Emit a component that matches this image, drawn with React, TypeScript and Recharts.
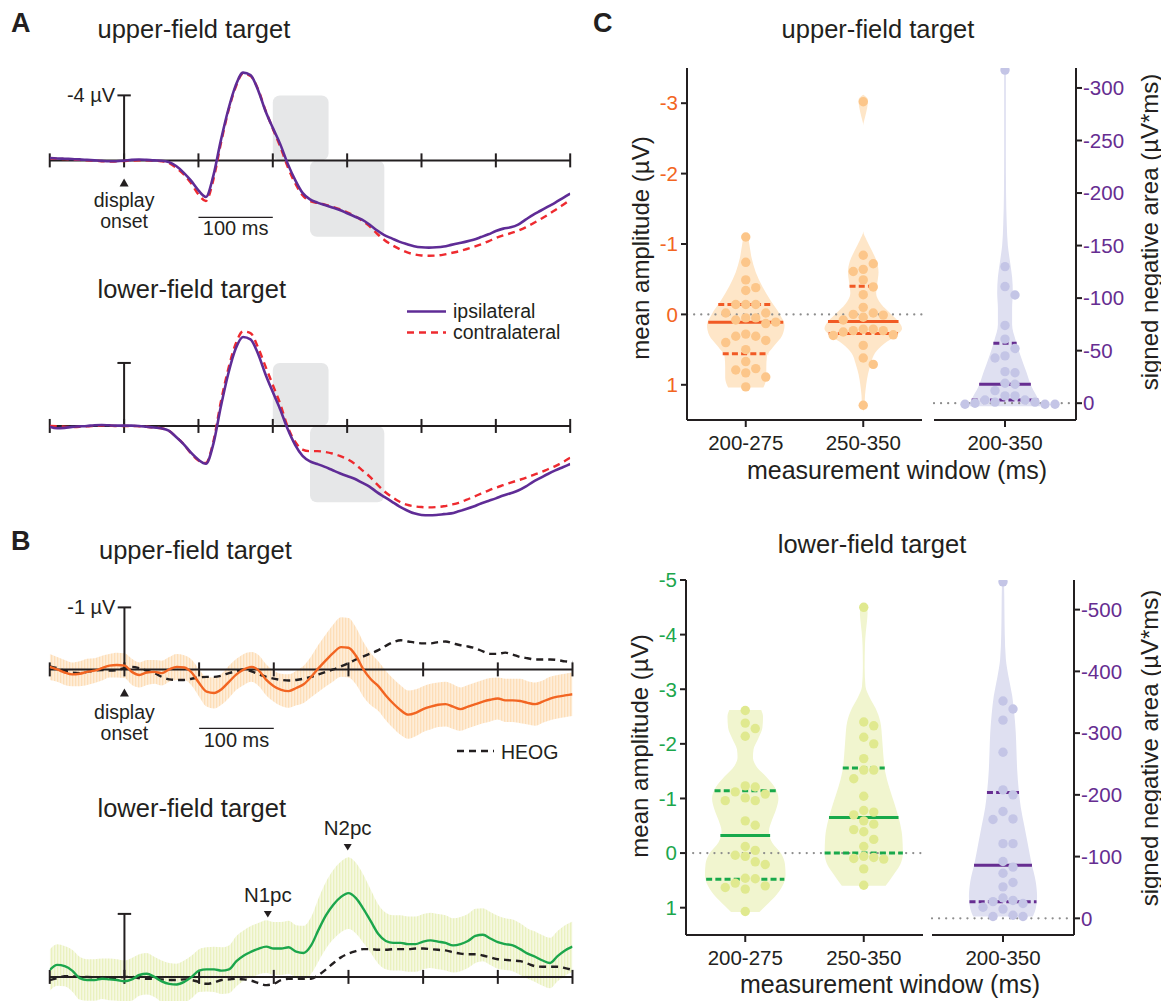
import React from "react";
import {
  ComposedChart,
  Line,
  Area,
  Scatter,
  XAxis,
  YAxis,
  ReferenceLine,
  ReferenceArea,
  ReferenceDot,
} from "recharts";

const FONT = '"Liberation Sans", Arial, Helvetica, sans-serif';
const INK = "#231f20";

// ---------- ERP waveforms, sampled every 10 ms from -100 to 600 ms ----------
const TIME_MS = Array.from({ length: 71 }, (_, i) => -100 + i * 10);
const TIME_TICKS = [-100, 0, 100, 200, 300, 400, 500, 600];

// panel A, upper-field target (µV, negative up)
const aUpperIpsi = [
  -0.15, -0.12, -0.1, -0.08, -0.06, -0.03, 0.0, 0.03, 0.05, 0.05,
  0.02, -0.03, -0.05, -0.03, 0.0, 0.02, 0.1, 0.35, 0.75, 1.25,
  1.85, 2.25, 0.95, -1.2, -3.1, -4.6, -5.4, -5.25, -4.35, -3.05,
  -2.0, -1.0, 0.2, 1.2, 2.0, 2.4, 2.6, 2.75, 2.9, 3.05,
  3.25, 3.45, 3.65, 3.95, 4.3, 4.6, 4.8, 5.0, 5.15, 5.28,
  5.35, 5.37, 5.35, 5.3, 5.2, 5.1, 5.0, 4.88, 4.72, 4.55,
  4.35, 4.2, 4.12, 3.95, 3.65, 3.35, 3.1, 2.85, 2.6, 2.32,
  2.05,
];
const aUpperContra = [
  -0.12, -0.1, -0.08, -0.05, -0.03, 0.0, 0.02, 0.05, 0.08, 0.06,
  0.04, 0.02, 0.0, 0.0, 0.02, 0.05, 0.15, 0.45, 0.85, 1.4,
  2.1, 2.5, 1.2, -1.0, -3.0, -4.5, -5.35, -5.2, -4.4, -3.1,
  -1.95, -0.85, 0.4, 1.4, 2.15, 2.5, 2.62, 2.72, 2.85, 3.0,
  3.2, 3.42, 3.7, 4.05, 4.5, 4.9, 5.2, 5.45, 5.65, 5.78,
  5.85, 5.87, 5.86, 5.8, 5.7, 5.6, 5.47, 5.33, 5.17, 4.98,
  4.78, 4.62, 4.48, 4.32, 4.12, 3.88, 3.62, 3.35, 3.05, 2.75,
  2.42,
];

// panel A, lower-field target
const aLowerIpsi = [
  0.05, 0.15, 0.12, 0.06, 0.03, 0.0, -0.04, -0.06, -0.04, -0.02,
  -0.02, -0.02, 0.0, 0.05, 0.1, 0.15, 0.3, 0.7, 1.15, 1.7,
  2.15, 2.4, 1.15, -1.2, -3.3, -4.9, -5.65, -5.5, -4.6, -3.3,
  -2.15, -1.05, 0.2, 1.2, 1.9, 2.25, 2.42, 2.6, 2.8, 3.0,
  3.18, 3.35, 3.6, 3.85, 4.2, 4.5, 4.8, 5.1, 5.35, 5.55,
  5.65, 5.67, 5.65, 5.6, 5.55, 5.42, 5.28, 5.12, 4.92, 4.76,
  4.6, 4.42, 4.27, 4.1, 3.85, 3.55, 3.3, 3.05, 2.82, 2.62,
  2.42,
];
const aLowerContra = [
  0.0, 0.02, 0.05, 0.08, 0.05, 0.03, 0.0, -0.03, -0.02, 0.0,
  0.0, 0.0, 0.02, 0.05, 0.1, 0.15, 0.3, 0.7, 1.15, 1.75,
  2.2, 2.35, 1.0, -1.5, -3.6, -5.2, -6.0, -5.9, -5.0, -3.8,
  -2.6, -1.4, 0.05, 1.0, 1.5, 1.6, 1.6, 1.65, 1.75, 1.9,
  2.1, 2.4, 2.8, 3.2, 3.7, 4.15, 4.5, 4.8, 5.0, 5.1,
  5.15, 5.17, 5.15, 5.1, 5.0, 4.88, 4.7, 4.5, 4.3, 4.1,
  3.92, 3.76, 3.6, 3.45, 3.3, 3.12, 2.95, 2.75, 2.55, 2.3,
  2.02,
];

// panel B, contra-minus-ipsi difference waves, their error and HEOG
const bUpperDiff = [
  -0.04, 0.0, 0.05, 0.08, 0.07, 0.04, 0.02, -0.02, -0.06, -0.07,
  -0.06, 0.04, 0.09, 0.05, 0.04, 0.06, 0.0, -0.04, -0.03, 0.05,
  0.22, 0.36, 0.38, 0.32, 0.2, 0.08, 0.0, -0.04, 0.02, 0.17,
  0.27, 0.33, 0.35, 0.3, 0.24, 0.12, -0.02, -0.15, -0.27, -0.36,
  -0.35, -0.22, 0.0, 0.16, 0.27, 0.42, 0.55, 0.66, 0.73, 0.7,
  0.64, 0.6, 0.57, 0.56, 0.6, 0.64, 0.6, 0.56, 0.52, 0.49,
  0.47, 0.5, 0.5, 0.51, 0.54, 0.56, 0.52, 0.47, 0.44, 0.42,
  0.4,
];
const bUpperErr = [
  0.21, 0.2, 0.2, 0.19, 0.2, 0.21, 0.2, 0.2, 0.19, 0.2,
  0.2, 0.21, 0.2, 0.2, 0.19, 0.2, 0.2, 0.21, 0.2, 0.21,
  0.22, 0.24, 0.25, 0.25, 0.26, 0.25, 0.25, 0.24, 0.25, 0.25,
  0.25, 0.26, 0.27, 0.28, 0.3, 0.33, 0.38, 0.42, 0.46, 0.48,
  0.48, 0.46, 0.44, 0.42, 0.4, 0.4, 0.4, 0.4, 0.39, 0.38,
  0.37, 0.37, 0.36, 0.36, 0.36, 0.35, 0.35, 0.35, 0.35, 0.35,
  0.34, 0.35, 0.35, 0.36, 0.35, 0.35, 0.34, 0.35, 0.35, 0.35,
  0.35,
];
const bUpperHeog = [
  -0.05, -0.02, 0.02, 0.05, 0.06, 0.04, 0.02, 0.01, 0.02, 0.01,
  -0.02, -0.04, -0.02, 0.02, 0.06, 0.12, 0.16, 0.17, 0.17, 0.15,
  0.13, 0.12, 0.12, 0.1, 0.06, 0.03, 0.0, 0.03, 0.08, 0.12,
  0.15, 0.17, 0.18, 0.17, 0.15, 0.12, 0.08, 0.04, 0.0, -0.05,
  -0.1, -0.16, -0.21, -0.26, -0.31, -0.38, -0.44, -0.47, -0.45, -0.43,
  -0.42, -0.42, -0.44, -0.45, -0.42, -0.39, -0.37, -0.34, -0.29, -0.25,
  -0.25, -0.27, -0.24, -0.2, -0.18, -0.16, -0.16, -0.16, -0.15, -0.13,
  -0.12,
];
const bLowerDiff = [
  -0.11, -0.19, -0.17, -0.1, 0.02, 0.05, 0.05, 0.03, 0.04, 0.05,
  0.07, 0.04, -0.03, -0.05, 0.0, 0.07, 0.11, 0.12, 0.08, 0.0,
  -0.1, -0.12, -0.12, -0.1, -0.12, -0.25, -0.34, -0.4, -0.45, -0.48,
  -0.45, -0.45, -0.47, -0.4, -0.38, -0.5, -0.75, -0.98, -1.15, -1.27,
  -1.33, -1.25, -1.08, -0.88, -0.68, -0.57, -0.54, -0.54, -0.52, -0.52,
  -0.56, -0.58, -0.56, -0.54, -0.5, -0.52, -0.57, -0.65, -0.67, -0.61,
  -0.55, -0.52, -0.5, -0.44, -0.37, -0.32, -0.26, -0.22, -0.33, -0.42,
  -0.48,
];
const bLowerErr = [
  0.33, 0.33, 0.32, 0.33, 0.34, 0.33, 0.33, 0.32, 0.33, 0.33,
  0.33, 0.34, 0.33, 0.33, 0.32, 0.33, 0.33, 0.33, 0.34, 0.34,
  0.34, 0.35, 0.36, 0.37, 0.38, 0.4, 0.4, 0.41, 0.41, 0.42,
  0.42, 0.42, 0.42, 0.42, 0.43, 0.45, 0.5, 0.53, 0.55, 0.56,
  0.57, 0.56, 0.54, 0.5, 0.47, 0.45, 0.44, 0.44, 0.44, 0.44,
  0.44, 0.44, 0.44, 0.44, 0.43, 0.43, 0.43, 0.43, 0.42, 0.42,
  0.42, 0.41, 0.41, 0.41, 0.4, 0.4, 0.4, 0.4, 0.4, 0.4,
  0.4,
];
const bLowerHeog = [
  0.05, 0.02, -0.01, -0.01, 0.0, 0.0, 0.01, 0.02, 0.03, 0.02,
  0.0, 0.0, 0.02, 0.03, 0.03, 0.04, 0.05, 0.05, 0.04, 0.05,
  0.08, 0.11, 0.09, 0.05, 0.04, 0.03, 0.04, 0.06, 0.1, 0.13,
  0.11, 0.05, 0.03, 0.03, 0.03, 0.03, -0.03, -0.12, -0.22, -0.31,
  -0.37, -0.41, -0.44, -0.44, -0.43, -0.43, -0.44, -0.44, -0.44, -0.45,
  -0.45, -0.44, -0.43, -0.42, -0.39, -0.37, -0.36, -0.36, -0.34, -0.31,
  -0.28, -0.27, -0.26, -0.25, -0.21, -0.17, -0.16, -0.16, -0.16, -0.14,
  -0.11,
];

// measurement windows (ms)
const WIN_EARLY = [200, 275];
const WIN_LATE = [250, 350];

// ---------- panel C: single-subject measures ----------
const WINDOW_NAMES = ["200-275", "250-350"];
const AREA_NAME = ["200-350"];

// upper-field, mean amplitude 200-275 ms
const uEarlyLevels = [-1.15, -1.08, -1.0, -0.8, -0.6, -0.4, -0.2, 0.0, 0.15, 0.3, 0.45, 0.6, 0.75, 0.9, 1.04];
const uEarlyWidths = [0.0, 0.04, 0.06, 0.1, 0.17, 0.28, 0.42, 0.58, 0.66, 0.62, 0.48, 0.36, 0.35, 0.35, 0.3];
const uEarlyDots = [-1.1, -0.74, -0.49, -0.38, -0.34, -0.14, -0.14, -0.14, -0.02, -0.02, 0.05, 0.05, 0.08, 0.11, 0.13, 0.28, 0.31, 0.37, 0.31, 0.4, 0.5, 0.67, 0.77, 0.79, 0.83, 0.89, 1.03];
const uEarlyStats = { q1: -0.14, median: 0.11, q3: 0.56 };

// upper-field, mean amplitude 250-350 ms
const uLateLevels = [-3.12, -3.05, -2.95, -2.8, -2.68, -1.18, -1.05, -0.9, -0.75, -0.6, -0.45, -0.3, -0.15, 0.0, 0.1, 0.2, 0.3, 0.42, 0.55, 0.7, 0.85, 1.0, 1.15, 1.3, 1.38];
const uLateWidths = [0.0, 0.08, 0.07, 0.03, 0.0, 0.0, 0.06, 0.15, 0.23, 0.26, 0.24, 0.22, 0.3, 0.48, 0.6, 0.66, 0.56, 0.35, 0.2, 0.13, 0.08, 0.05, 0.03, 0.02, 0.0];
const uLateDots = [-3.02, -0.84, -0.72, -0.64, -0.61, -0.49, -0.39, -0.28, -0.1, -0.02, 0.0, 0.04, 0.01, 0.08, 0.21, 0.21, 0.23, 0.25, 0.23, 0.3, 0.29, 0.44, 0.62, 0.71, 1.29];
const uLateStats = { q1: -0.4, median: 0.1, q3: 0.27 };

// upper-field, signed negative area 200-350 ms (µV*ms)
const uAreaLevels = [-320, -317, -280, -240, -200, -170, -150, -135, -120, -105, -90, -75, -60, -45, -30, -15, -5, 3];
const uAreaWidths = [0.0, 0.012, 0.012, 0.012, 0.015, 0.025, 0.04, 0.07, 0.1, 0.11, 0.1, 0.1, 0.15, 0.22, 0.3, 0.38, 0.46, 0.5];
const uAreaDots = [-317, -130, -111, -103, -74, -61, -52, -45, -43, -30, -29, -19, -18, -12, -7, -7, -1, -1, -3, -3, 0, 1, 1, 1];
const uAreaStats = { q1: -57, median: -18, q3: -3 };

// lower-field, mean amplitude 200-275 ms
const lEarlyLevels = [-2.62, -2.5, -2.3, -2.1, -1.9, -1.75, -1.6, -1.4, -1.2, -1.0, -0.8, -0.6, -0.4, -0.2, 0.0, 0.2, 0.4, 0.6, 0.8, 0.95, 1.08];
const lEarlyWidths = [0.27, 0.3, 0.29, 0.22, 0.14, 0.13, 0.18, 0.35, 0.5, 0.56, 0.52, 0.45, 0.4, 0.45, 0.6, 0.67, 0.68, 0.63, 0.5, 0.36, 0.24];
const lEarlyDots = [-2.61, -2.38, -2.28, -2.14, -1.21, -1.23, -1.12, -1.01, -0.96, -0.96, -1.08, -0.59, -0.51, -0.12, -0.05, 0.04, 0.06, 0.16, 0.21, 0.46, 0.47, 0.55, 0.6, 0.63, 0.66, 1.07];
const lEarlyStats = { q1: -1.14, median: -0.32, q3: 0.48 };

// lower-field, mean amplitude 250-350 ms
const lLateLevels = [-4.56, -4.5, -4.4, -4.25, -4.05, -3.8, -3.4, -3.05, -2.85, -2.65, -2.4, -2.1, -1.8, -1.5, -1.2, -0.9, -0.6, -0.3, 0.0, 0.2, 0.4, 0.6];
const lLateWidths = [0.0, 0.05, 0.065, 0.055, 0.035, 0.02, 0.015, 0.03, 0.1, 0.2, 0.28, 0.31, 0.33, 0.36, 0.43, 0.52, 0.6, 0.65, 0.66, 0.62, 0.5, 0.37];
const lLateDots = [-4.5, -2.4, -2.33, -2.12, -2.0, -1.73, -1.52, -1.52, -1.36, -1.04, -0.78, -0.75, -0.7, -0.53, -0.59, -0.39, -0.43, -0.25, -0.12, 0.08, 0.1, 0.11, 0.06, 0.29, 0.59];
const lLateStats = { q1: -1.56, median: -0.65, q3: 0.0 };

// lower-field, signed negative area 200-350 ms
const lAreaLevels = [-550, -540, -500, -460, -420, -390, -360, -330, -300, -270, -240, -210, -180, -150, -120, -90, -60, -35, -15, -3];
const lAreaWidths = [0.0, 0.015, 0.02, 0.025, 0.04, 0.08, 0.13, 0.16, 0.18, 0.19, 0.2, 0.22, 0.25, 0.3, 0.35, 0.4, 0.46, 0.48, 0.46, 0.42];
const lAreaDots = [-545, -352, -339, -321, -269, -208, -200, -173, -161, -160, -121, -121, -92, -83, -73, -58, -51, -33, -29, -18, -24, -15, -5, -3, -27, -3];
const lAreaStats = { q1: -204, median: -86, q3: -27 };

// ---------- palette ----------
const PURPLE = "#5f2c96";
const RED = "#ee2a2f";
const ORANGE = "#f26522";
const GREEN = "#1ca64c";
const VIOLET = "#662d91";
const ORANGE_SET = { fill: "#fee6c8", dot: "#fcc68a", line: "#f15a24" };
const GREEN_SET = { fill: "#f1f5cf", dot: "#e0e98f", line: "#18a94b" };
const VIOLET_SET = { fill: "#dfe0f1", dot: "#c4c5e6", line: "#662d91" };

// ---------- ERP panels ----------
type Frame = { zero: number; ppu: number; yMin: number; yMax: number; left: number; right: number };

const CHART_W = 620;
const PAD = 50;
const NOTE = 19.5;

function ErpChart({ frame, rows, children }: { frame: Frame; rows: any[]; children: React.ReactNode }) {
  const plotTop = frame.zero + frame.yMin * frame.ppu;
  const height = (frame.yMax - frame.yMin) * frame.ppu + PAD * 2;
  return (
    <div style={{ position: "absolute", left: 0, top: plotTop - PAD }}>
      <ComposedChart
        width={CHART_W}
        height={height}
        data={rows}
        margin={{ top: PAD, bottom: PAD, left: frame.left, right: CHART_W - frame.right }}
      >
        <XAxis type="number" dataKey="t" domain={[-100, 600]} hide allowDataOverflow />
        <YAxis type="number" domain={[frame.yMin, frame.yMax]} reversed hide allowDataOverflow />
        {children}
      </ComposedChart>
    </div>
  );
}

const roundedBox = (p: any) => (
  <rect x={p.x} y={p.y} width={p.width} height={p.height} rx={7} ry={7} fill="#e6e7e8" />
);

function timeAxis(f: Frame, barTop: number) {
  const tick = 7 / f.ppu;
  const stroke = { stroke: INK, strokeWidth: 2, ifOverflow: "visible" as const };
  return [
    <ReferenceLine key="axis" y={0} {...stroke} />,
    ...TIME_TICKS.map((t) => (
      <ReferenceLine key={`tick${t}`} segment={[{ x: t, y: -tick }, { x: t, y: tick }]} {...stroke} />
    )),
    <ReferenceLine key="bar" segment={[{ x: 0, y: 0 }, { x: 0, y: barTop }]} {...stroke} />,
    <ReferenceLine key="cap" segment={[{ x: -9, y: barTop }, { x: 9, y: barTop }]} {...stroke} />,
  ];
}

function voltLabel(value: number, text: string) {
  return (
    <ReferenceDot
      key="voltLabel"
      x={0}
      y={value}
      r={0}
      ifOverflow="visible"
      shape={(p: any) => (
        <text x={p.cx - 9} y={p.cy} dy="0.33em" textAnchor="end" fontSize={20} fill={INK}>
          {text}
        </text>
      )}
    />
  );
}

function onsetNote(arrow: number, line1: number, line2: number) {
  return (
    <ReferenceDot
      key="onset"
      x={0}
      y={0}
      r={0}
      ifOverflow="visible"
      shape={(p: any) => (
        <g>
          <polygon
            points={`${p.cx - 4.5},${p.cy + arrow + 4} ${p.cx + 4.5},${p.cy + arrow + 4} ${p.cx},${p.cy + arrow - 4}`}
            fill={INK}
          />
          <text x={p.cx} y={p.cy + line1} textAnchor="middle" fontSize={NOTE} fill={INK}>display</text>
          <text x={p.cx} y={p.cy + line2} textAnchor="middle" fontSize={NOTE} fill={INK}>onset</text>
        </g>
      )}
    />
  );
}

function scaleBar(f: Frame, below: number, textGap: number) {
  const v = below / f.ppu;
  return [
    <ReferenceLine key="sbar" segment={[{ x: 100, y: v }, { x: 200, y: v }]} stroke={INK} strokeWidth={1.3} ifOverflow="visible" />,
    <ReferenceDot
      key="sbarText"
      x={150}
      y={v}
      r={0}
      ifOverflow="visible"
      shape={(p: any) => (
        <text x={p.cx} y={p.cy + textGap} textAnchor="middle" fontSize={20} fill={INK}>100 ms</text>
      )}
    />,
  ];
}

function peakNote(key: string, t: number, v: number, text: string) {
  return (
    <ReferenceDot
      key={key}
      x={t}
      y={v}
      r={0}
      ifOverflow="visible"
      shape={(p: any) => (
        <g>
          <polygon points={`${p.cx - 4},${p.cy - 3} ${p.cx + 4},${p.cy - 3} ${p.cx},${p.cy + 3.5}`} fill={INK} />
          <text x={p.cx} y={p.cy - 12} textAnchor="middle" fontSize={20.5} fill={INK}>{text}</text>
        </g>
      )}
    />
  );
}

function windowBoxes(lateDepth: number) {
  return [
    <ReferenceArea key="w1" x1={WIN_EARLY[0]} x2={WIN_EARLY[1]} y1={-4} y2={0} shape={roundedBox} ifOverflow="visible" />,
    <ReferenceArea key="w2" x1={WIN_LATE[0]} x2={WIN_LATE[1]} y1={0} y2={lateDepth} shape={roundedBox} ifOverflow="visible" />,
  ];
}

const FRAME_A1: Frame = { zero: 160, ppu: 16.25, yMin: -6.3, yMax: 6.4, left: 49.75, right: 570.2 };
const FRAME_A2: Frame = { zero: 426, ppu: 15.75, yMin: -6.6, yMax: 6.2, left: 49.75, right: 570.2 };
const FRAME_B1: Frame = { zero: 669, ppu: 62, yMin: -1.2, yMax: 1.45, left: 49.75, right: 572.5 };
const FRAME_B2: Frame = { zero: 977, ppu: 63, yMin: -2.3, yMax: 0.5, left: 49.75, right: 572.5 };

const erpRows = (ipsi: number[], contra: number[]) =>
  TIME_MS.map((t, i) => ({ t, ipsi: ipsi[i], contra: contra[i] }));
const diffRows = (diff: number[], err: number[], heog: number[]) =>
  TIME_MS.map((t, i) => ({ t, diff: diff[i], band: [diff[i] - err[i], diff[i] + err[i]], heog: heog[i] }));

function hatch(id: string, base: string, stripe: string) {
  return (
    <defs key={`defs-${id}`}>
      <pattern id={id} width="3" height="6" patternUnits="userSpaceOnUse">
        <rect width="3" height="6" fill={base} />
        <rect width="1.3" height="6" fill={stripe} />
      </pattern>
    </defs>
  );
}

// ---------- violins ----------
type Violin = {
  center: number;
  levels: number[];
  widths: number[];
  dots: number[];
  stats: { q1: number; median: number; q3: number };
  colors: { fill: string; dot: string; line: string };
};

const widthAt = (levels: number[], widths: number[], v: number) => {
  for (let i = 0; i < levels.length - 1; i++) {
    if (v >= levels[i] && v <= levels[i + 1]) {
      const f = (v - levels[i]) / (levels[i + 1] - levels[i]);
      return widths[i] + f * (widths[i + 1] - widths[i]);
    }
  }
  return 0;
};

// simple beeswarm: each dot takes the nearest free slot beside the centre line
const swarm = (values: number[], center: number, xPx: number, yPx: number, gap: number) => {
  const order = values.map((_, i) => i).sort((a, b) => values[a] - values[b]);
  const placed: { off: number; v: number }[] = [];
  const out: { px: number; lvl: number }[] = [];
  order.forEach((i) => {
    const v = values[i];
    for (let k = 0; k < 40; k++) {
      const slot = k === 0 ? 0 : k % 2 === 1 ? (k + 1) / 2 : -k / 2;
      const off = slot * gap;
      const clash = placed.some((p) => Math.hypot(p.off - off, (p.v - v) * yPx) < gap - 0.5);
      if (!clash) {
        placed.push({ off, v });
        out.push({ px: center + off / xPx, lvl: v });
        break;
      }
    }
  });
  return out;
};

type ViolinChartProps = {
  plotLeft: number;
  plotRight: number;
  plotTop: number;
  plotBottom: number;
  side: "left" | "right";
  xDomain: [number, number];
  xTicks: number[];
  xNames: string[];
  yDomain: [number, number];
  yTicks: number[];
  yColor: string;
  violins: Violin[];
};

const AXIS_W = 58;
const TOP_PAD = 22;

function ViolinChart(p: ViolinChartProps) {
  const plotW = p.plotRight - p.plotLeft;
  const plotH = p.plotBottom - p.plotTop;
  const margin =
    p.side === "left"
      ? { top: TOP_PAD, bottom: 0, left: 8, right: 6 }
      : { top: TOP_PAD, bottom: 0, left: 6, right: 8 };
  const boxLeft = p.side === "left" ? p.plotLeft - AXIS_W - 8 : p.plotLeft - 6;
  const width = plotW + AXIS_W + 14;
  const height = plotH + TOP_PAD + 44;
  const xPx = plotW / (p.xDomain[1] - p.xDomain[0]);
  const yPx = plotH / (p.yDomain[1] - p.yDomain[0]);

  const rows: any[] = [];
  p.violins.forEach((v, k) => {
    v.levels.forEach((lvl, j) => {
      const row: any = { lvl };
      p.violins.forEach((_, m) => {
        row[`v${m}`] = m === k ? [v.center - v.widths[j], v.center + v.widths[j]] : [null, null];
      });
      rows.push(row);
    });
  });

  const axisStroke = { stroke: INK, strokeWidth: 2 };

  return (
    <div style={{ position: "absolute", left: boxLeft, top: p.plotTop - TOP_PAD }}>
      <ComposedChart layout="vertical" width={width} height={height} data={rows} margin={margin}>
        <XAxis
          type="number"
          dataKey="px"
          domain={p.xDomain}
          ticks={p.xTicks}
          interval={0}
          allowDataOverflow
          height={44}
          tickFormatter={(v: number) => p.xNames[p.xTicks.indexOf(v)] ?? ""}
          tick={{ fill: INK, fontSize: 20.5 }}
          tickSize={7}
          tickMargin={8}
          axisLine={axisStroke}
          tickLine={axisStroke}
        />
        <YAxis
          type="number"
          dataKey="lvl"
          orientation={p.side}
          domain={p.yDomain}
          ticks={p.yTicks}
          interval={0}
          allowDataOverflow
          width={AXIS_W}
          tick={{ fill: p.yColor, fontSize: 20.5 }}
          tickSize={6}
          tickMargin={p.side === "left" ? 3 : 1}
          axisLine={axisStroke}
          tickLine={axisStroke}
        />
        <ReferenceLine y={0} stroke="#8d8d8d" strokeWidth={2.2} strokeDasharray="0.1 7" strokeLinecap="round" />
        {p.violins.map((v, k) => (
          <Area
            key={`violin${k}`}
            dataKey={`v${k}`}
            type="monotone"
            stroke="none"
            fill={v.colors.fill}
            fillOpacity={1}
            connectNulls
            isAnimationActive={false}
          />
        ))}
        {p.violins.map((v, k) => (
          <Scatter
            key={`dots${k}`}
            data={swarm(v.dots, v.center, xPx, yPx, 10)}
            isAnimationActive={false}
            shape={(d: any) => <circle cx={d.cx} cy={d.cy} r={4.7} fill={v.colors.dot} />}
          />
        ))}
        {p.violins.flatMap((v, k) =>
          (["q1", "median", "q3"] as const).map((s) => {
            const y = v.stats[s];
            const w = widthAt(v.levels, v.widths, y);
            return (
              <ReferenceLine
                key={`stat${k}${s}`}
                segment={[{ x: v.center - w, y }, { x: v.center + w, y }]}
                stroke={v.colors.line}
                strokeWidth={3}
                strokeDasharray={s === "median" ? undefined : "6 3.2"}
                ifOverflow="visible"
              />
            );
          })
        )}
      </ComposedChart>
    </div>
  );
}

const violin = (
  center: number,
  levels: number[],
  widths: number[],
  dots: number[],
  stats: Violin["stats"],
  colors: Violin["colors"]
): Violin => ({ center, levels, widths, dots, stats, colors });

// ---------- page ----------
export default function App() {
  const text = { fontFamily: FONT, fill: INK };
  return (
    <div
      style={{
        position: "absolute",
        left: 0,
        top: 0,
        width: 1161,
        height: 1001,
        background: "#fff",
        fontFamily: FONT,
        overflow: "hidden",
      }}
    >
      {/* A: ERPs, upper-field target */}
      <ErpChart frame={FRAME_A1} rows={erpRows(aUpperIpsi, aUpperContra)}>
        {windowBoxes(4.7)}
        {timeAxis(FRAME_A1, -4)}
        <Line dataKey="contra" type="monotone" stroke={RED} strokeWidth={2.4} strokeDasharray="7 5" dot={false} isAnimationActive={false} />
        <Line dataKey="ipsi" type="monotone" stroke={PURPLE} strokeWidth={2.6} dot={false} isAnimationActive={false} />
        {voltLabel(-4, "-4 µV")}
        {onsetNote(22, 47, 68)}
        {scaleBar(FRAME_A1, 57, 18)}
      </ErpChart>

      {/* A: ERPs, lower-field target */}
      <ErpChart frame={FRAME_A2} rows={erpRows(aLowerIpsi, aLowerContra)}>
        {windowBoxes(4.85)}
        {timeAxis(FRAME_A2, -4)}
        <Line dataKey="contra" type="monotone" stroke={RED} strokeWidth={2.4} strokeDasharray="7 5" dot={false} isAnimationActive={false} />
        <Line dataKey="ipsi" type="monotone" stroke={PURPLE} strokeWidth={2.6} dot={false} isAnimationActive={false} />
      </ErpChart>

      {/* B: difference waves, upper-field target */}
      <ErpChart frame={FRAME_B1} rows={diffRows(bUpperDiff, bUpperErr, bUpperHeog)}>
        {hatch("hatchOrange", "#fee9d0", "#fcd6a6")}
        {timeAxis(FRAME_B1, -1)}
        <Area dataKey="band" type="monotone" stroke="none" fill="url(#hatchOrange)" fillOpacity={0.8} isAnimationActive={false} />
        <Line dataKey="heog" type="monotone" stroke={INK} strokeWidth={2.4} strokeDasharray="7 5" dot={false} isAnimationActive={false} />
        <Line dataKey="diff" type="monotone" stroke={ORANGE} strokeWidth={2.4} dot={false} isAnimationActive={false} />
        {voltLabel(-1, "-1 µV")}
        {onsetNote(23, 50, 71)}
        {scaleBar(FRAME_B1, 59, 19)}
      </ErpChart>

      {/* B: difference waves, lower-field target */}
      <ErpChart frame={FRAME_B2} rows={diffRows(bLowerDiff, bLowerErr, bLowerHeog)}>
        {hatch("hatchGreen", "#f4f7dc", "#e6eeb4")}
        {timeAxis(FRAME_B2, -1)}
        <Area dataKey="band" type="monotone" stroke="none" fill="url(#hatchGreen)" fillOpacity={0.85} isAnimationActive={false} />
        <Line dataKey="heog" type="monotone" stroke={INK} strokeWidth={2.4} strokeDasharray="7 5" dot={false} isAnimationActive={false} />
        <Line dataKey="diff" type="monotone" stroke={GREEN} strokeWidth={2.4} dot={false} isAnimationActive={false} />
        {peakNote("n1pc", 192, -1.0, "N1pc")}
        {peakNote("n2pc", 299, -2.06, "N2pc")}
      </ErpChart>

      {/* C: upper-field target */}
      <ViolinChart
        plotLeft={687}
        plotRight={922}
        plotTop={68}
        plotBottom={420}
        side="left"
        xDomain={[0, 4]}
        xTicks={[1, 3]}
        xNames={WINDOW_NAMES}
        yDomain={[-3.5, 1.5]}
        yTicks={[-3, -2, -1, 0, 1]}
        yColor={ORANGE}
        violins={[
          violin(1, uEarlyLevels, uEarlyWidths, uEarlyDots, uEarlyStats, ORANGE_SET),
          violin(3, uLateLevels, uLateWidths, uLateDots, uLateStats, ORANGE_SET),
        ]}
      />
      <ViolinChart
        plotLeft={934}
        plotRight={1076}
        plotTop={68}
        plotBottom={420}
        side="right"
        xDomain={[0, 2]}
        xTicks={[1]}
        xNames={AREA_NAME}
        yDomain={[-319, 16]}
        yTicks={[-300, -250, -200, -150, -100, -50, 0]}
        yColor={VIOLET}
        violins={[violin(1, uAreaLevels, uAreaWidths, uAreaDots, uAreaStats, VIOLET_SET)]}
      />

      {/* C: lower-field target */}
      <ViolinChart
        plotLeft={686}
        plotRight={923}
        plotTop={580}
        plotBottom={935}
        side="left"
        xDomain={[0, 4]}
        xTicks={[1, 3]}
        xNames={WINDOW_NAMES}
        yDomain={[-5, 1.5]}
        yTicks={[-5, -4, -3, -2, -1, 0, 1]}
        yColor={GREEN}
        violins={[
          violin(1, lEarlyLevels, lEarlyWidths, lEarlyDots, lEarlyStats, GREEN_SET),
          violin(3, lLateLevels, lLateWidths, lLateDots, lLateStats, GREEN_SET),
        ]}
      />
      <ViolinChart
        plotLeft={932}
        plotRight={1074}
        plotTop={580}
        plotBottom={935}
        side="right"
        xDomain={[0, 2]}
        xTicks={[1]}
        xNames={AREA_NAME}
        yDomain={[-548, 27]}
        yTicks={[-500, -400, -300, -200, -100, 0]}
        yColor={VIOLET}
        violins={[violin(1, lAreaLevels, lAreaWidths, lAreaDots, lAreaStats, VIOLET_SET)]}
      />

      {/* titles, panel letters, legends and axis titles */}
      <svg width={1161} height={1001} style={{ position: "absolute", left: 0, top: 0, pointerEvents: "none" }}>
        <g {...text} fontWeight="bold" fontSize={27}>
          <text x={11} y={32}>A</text>
          <text x={11} y={550}>B</text>
          <text x={593} y={32}>C</text>
        </g>
        <g {...text} fontSize={25.5}>
          <text x={97.5} y={38}>upper-field target</text>
          <text x={97.5} y={298}>lower-field target</text>
          <text x={99} y={559}>upper-field target</text>
          <text x={97.5} y={817}>lower-field target</text>
          <text x={878} y={38} textAnchor="middle">upper-field target</text>
          <text x={872} y={553} textAnchor="middle">lower-field target</text>
        </g>
        <g {...text} fontSize={25}>
          <text x={897} y={479} textAnchor="middle">measurement window (ms)</text>
          <text x={890} y={993} textAnchor="middle">measurement window (ms)</text>
        </g>
        <g {...text} fontSize={24}>
          <text transform="translate(640,248) rotate(-90)" textAnchor="middle" dominantBaseline="central">mean amplitude (µV)</text>
          <text transform="translate(639,746) rotate(-90)" textAnchor="middle" dominantBaseline="central">mean amplitude (µV)</text>
          <text transform="translate(1149,232) rotate(-90)" textAnchor="middle" dominantBaseline="central">signed negative area (µV*ms)</text>
          <text transform="translate(1149,748) rotate(-90)" textAnchor="middle" dominantBaseline="central">signed negative area (µV*ms)</text>
        </g>
        {/* legend, panel A */}
        <line x1={407} x2={446} y1={311.5} y2={311.5} stroke={PURPLE} strokeWidth={2.6} />
        <line x1={407} x2={446} y1={332.5} y2={332.5} stroke={RED} strokeWidth={2.4} strokeDasharray="7 5" />
        <g {...text} fontSize={NOTE}>
          <text x={453} y={317.5}>ipsilateral</text>
          <text x={453} y={338.5}>contralateral</text>
          <text x={501} y={759}>HEOG</text>
        </g>
        {/* legend, panel B */}
        <line x1={457} x2={494} y1={751} y2={751} stroke={INK} strokeWidth={2.4} strokeDasharray="7 5" />
      </svg>
    </div>
  );
}
